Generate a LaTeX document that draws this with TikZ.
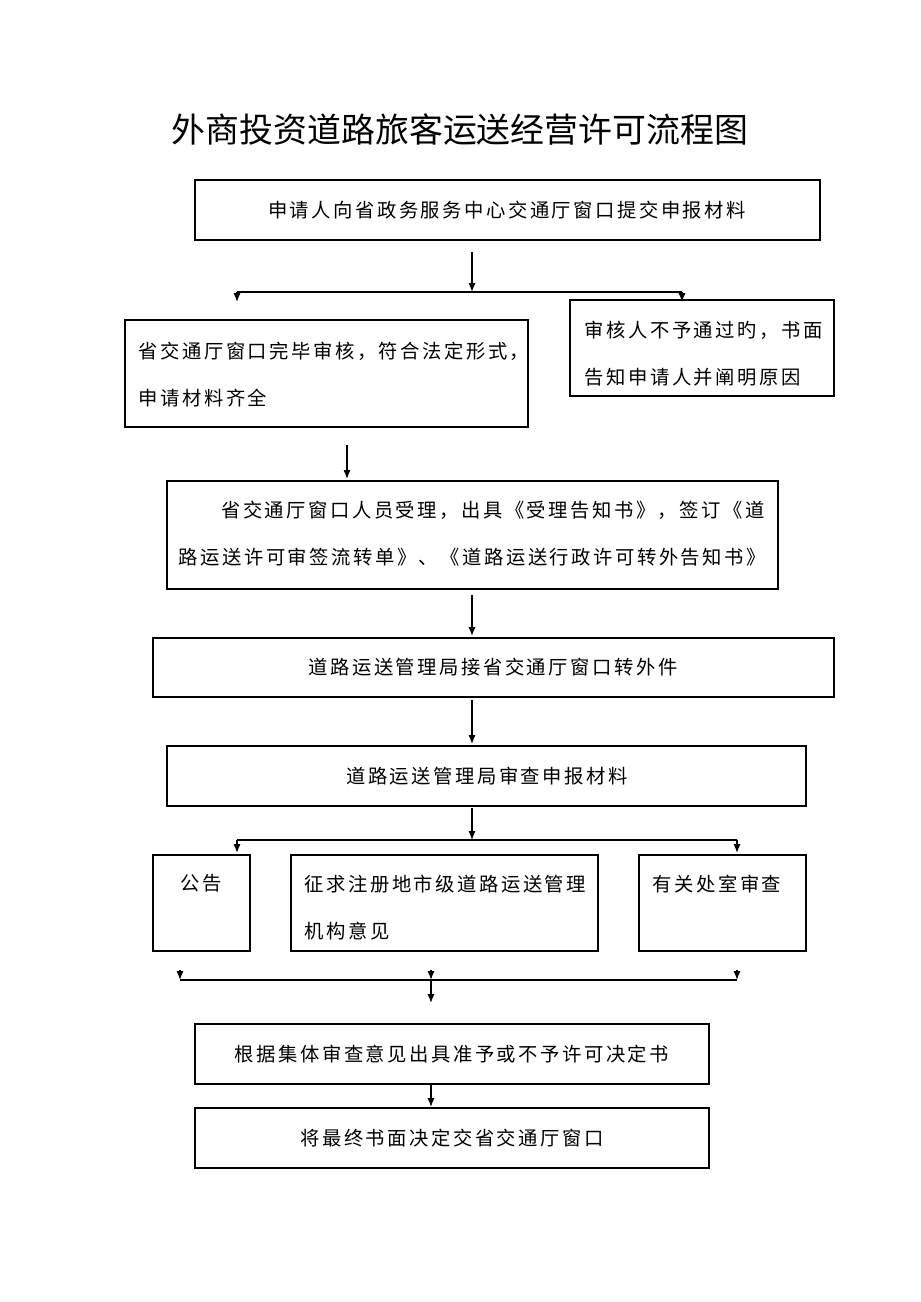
\documentclass[tikz,border=0pt]{standalone}
\usepackage{fontspec}
\setmainfont{Noto Sans CJK SC}[LetterSpace=13]
\newfontfamily\titlefont{Noto Sans CJK SC}[LetterSpace=0]
\usetikzlibrary{positioning,arrows.meta}
\begin{document}
\begin{tikzpicture}[x=0.02cm, y=-0.02cm,
  box/.style={draw, thick, inner sep=0pt, font=\fontsize{11pt}{27pt}\selectfont},
  arr/.style={-{Latex[length=5pt,width=4pt]}, thick},
  ln/.style={thick}]
\useasboundingbox (0,0) rectangle (920,1302);
\node[font=\titlefont\fontsize{19.3pt}{23pt}\selectfont] (title) at (460,130) {外商投资道路旅客运送经营许可流程图};

% boxes
\draw[thick] (195,180) rectangle (820,240);
\node[box, draw=none] (apply) at (507,210) {申请人向省政务服务中心交通厅窗口提交申报材料};
\draw[thick] (125,320) rectangle (528,427);
\node[box, draw=none, align=left, anchor=north west] (check) at (138,341) {省交通厅窗口完毕审核，符合法定形式，\\申请材料齐全};
\draw[thick] (570,300) rectangle (834,396);
\node[box, draw=none, align=left, anchor=north west] (reject) at (584,320) {审核人不予通过旳，书面\\告知申请人并阐明原因};
\draw[thick] (167,481) rectangle (778,589);
\node[box, draw=none, align=left, anchor=north west] (accept) at (178,500) {\hspace{2.2em}省交通厅窗口人员受理，出具《受理告知书》，签订《道\\路运送许可审签流转单》、《道路运送行政许可转外告知书》};
\draw[thick] (153,638) rectangle (834,697);
\node[box, draw=none] (bureau) at (493,667) {道路运送管理局接省交通厅窗口转外件};
\draw[thick] (167,746) rectangle (806,806);
\node[box, draw=none] (review) at (487,776) {道路运送管理局审查申报材料};
\draw[thick] (153,855) rectangle (250,951);
\node[box, draw=none, anchor=north west] (notice) at (180,874) {公告};
\draw[thick] (291,855) rectangle (598,951);
\node[box, draw=none, align=left, anchor=north west] (opinion) at (304,874) {征求注册地市级道路运送管理\\机构意见};
\draw[thick] (639,855) rectangle (806,951);
\node[box, draw=none, anchor=north west] (office) at (652,874) {有关处室审查};
\draw[thick] (195,1024) rectangle (709,1084);
\node[box, draw=none] (decide) at (452,1054) {根据集体审查意见出具准予或不予许可决定书};
\draw[thick] (195,1108) rectangle (709,1168);
\node[box, draw=none] (deliver) at (452,1138) {将最终书面决定交省交通厅窗口};

% connectors
\coordinate (s1) at (472,292);
\draw[arr] (472,252) -- (s1);
\draw[ln] (237,292) -- (682,292);
\draw[arr] (237,292) -- (237,302);
\draw[arr] (682,292) -- (682,302);
\draw[arr] (347,445) -- (347,479);
\draw[arr] (472,595) -- (472,636);
\draw[arr] (472,700) -- (472,744);
\draw[arr] (472,808) -- (472,840);
\draw[ln] (237,840) -- (737,840);
\draw[arr] (237,840) -- (237,853);
\draw[arr] (737,840) -- (737,853);
\draw[ln] (180,980) -- (737,980);
\foreach \x in {180,431,737} \draw[arr] (\x,970) -- (\x,980);
\draw[arr] (431,980) -- (431,1003);
\draw[arr] (431,1084) -- (431,1107);
\end{tikzpicture}
\end{document}
